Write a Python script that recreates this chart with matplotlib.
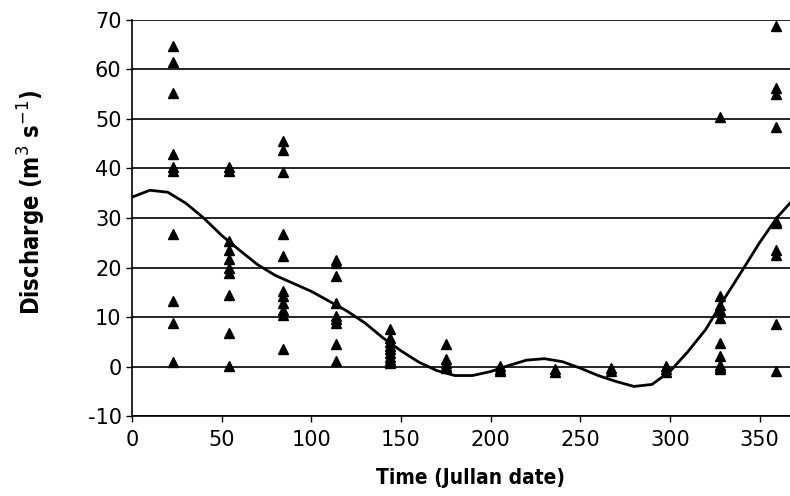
import matplotlib
matplotlib.use('Agg')
import matplotlib.pyplot as plt

plt.rcParams['axes.unicode_minus'] = False

# Observed discharge (sampling days and values per day)
sample_days = [23, 54, 84, 114, 144, 175, 205, 236, 267, 298, 328, 359]
discharge = [
    [64.7, 61.5, 55.3, 43.0, 40.3, 39.5, 26.7, 13.2, 8.8, 0.9],
    [40.2, 39.5, 25.3, 23.6, 21.8, 19.9, 18.9, 14.5, 6.7, 0.1],
    [45.5, 43.8, 39.3, 26.7, 22.3, 15.2, 14.2, 12.9, 11.5, 10.5, 3.6],
    [21.5, 21.0, 18.3, 12.9, 10.3, 9.6, 8.8, 4.5, 1.1],
    [7.5, 5.8, 5.0, 4.2, 3.5, 2.8, 2.0, 1.3, 0.8],
    [4.6, 1.5, 0.8, 0.2, -0.3],
    [0.2, -0.4, -0.9],
    [-0.5, -1.0],
    [-0.3, -0.9],
    [0.2, -0.4, -1.0],
    [50.4, 14.3, 12.5, 11.5, 9.8, 4.8, 2.1, 0.4, 0.0, -0.5],
    [68.7, 56.3, 55.0, 48.4, 29.4, 29.0, 23.6, 22.6, 8.7, -0.9],
]

# Fitted seasonal curve
fit_days = [0, 10, 20, 30, 40, 50, 60, 70, 80, 90, 100, 110, 120, 130, 140,
            150, 160, 170, 180, 190, 200, 210, 220, 230, 240, 250, 260, 270,
            280, 290, 300, 310, 320, 330, 340, 350, 360, 367]
fit_values = [34.2, 35.6, 35.2, 33.0, 30.0, 26.5, 23.5, 20.6, 18.4, 16.8,
              15.2, 13.2, 11.2, 8.8, 5.8, 3.2, 0.9, -0.8, -1.8, -1.8, -1.0,
              0.2, 1.3, 1.6, 1.0, -0.3, -1.8, -3.0, -4.0, -3.6, -1.0, 3.0,
              7.5, 13.5, 19.2, 25.0, 30.2, 33.0]

x_ticks = [0, 50, 100, 150, 200, 250, 300, 350]
y_ticks = [-10, 0, 10, 20, 30, 40, 50, 60, 70]

fig = plt.figure(figsize=(7.9, 4.96), dpi=100)
ax = fig.add_axes([0.167, 0.161, 0.833, 0.799])

for day, vals in zip(sample_days, discharge):
    ax.plot([day] * len(vals), vals, linestyle='none', marker='^',
            markersize=6.5, color='black', zorder=3)

ax.plot(fit_days, fit_values, color='black', linewidth=2.0, zorder=4,
        solid_joinstyle='round')

ax.set_xlim(0, 367)
ax.set_ylim(-10, 70)
ax.set_xticks(x_ticks)
ax.set_yticks(y_ticks)
ax.yaxis.grid(True, color='black', linewidth=1.2)
ax.set_axisbelow(True)

ax.spines['right'].set_visible(False)
ax.spines['top'].set_visible(False)
for side in ['left', 'bottom']:
    ax.spines[side].set_linewidth(1.2)

ax.tick_params(axis='both', labelsize=15, direction='out', length=4,
               width=1, colors='black')
ax.tick_params(axis='x', pad=6)

ax.set_xlabel('Time (Jullan date)', fontsize=15, fontweight='bold',
              family='DejaVu Sans', fontstretch='condensed')
ax.set_ylabel('Discharge (m$^3$ s$^{-1}$)', fontsize=17, fontweight='bold',
              family='DejaVu Sans', fontstretch='condensed')
ax.xaxis.set_label_coords(0.514, -0.13)
ax.yaxis.set_label_coords(-0.128, 0.54)

fig.savefig('out.png', dpi=100)
